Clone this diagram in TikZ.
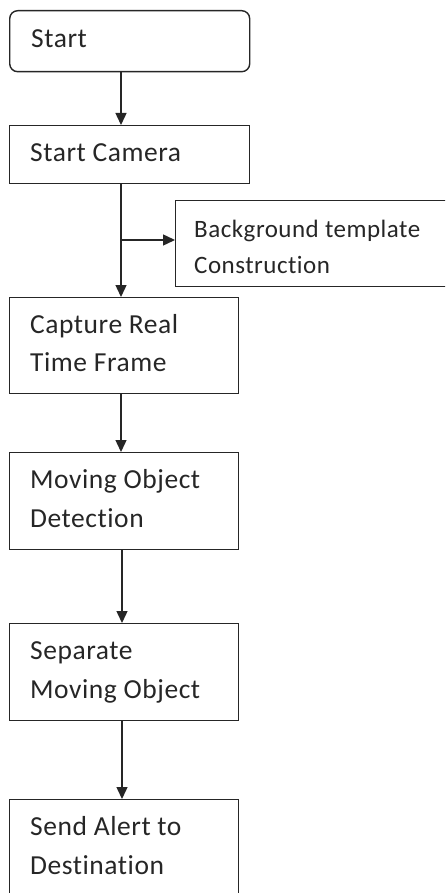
\documentclass[tikz,border=0pt]{standalone}
\usepackage{fontspec}
\setmainfont[Ligatures=NoCommon,LetterSpace=2]{Carlito}
\usetikzlibrary{arrows.meta}
\begin{document}
\begin{tikzpicture}[x=1pt,y=1pt,
  box/.style={draw=black!85, line width=1.4pt, rectangle, anchor=north west, inner sep=0pt},
  lbl/.style={anchor=base west, inner sep=0pt, font=\fontsize{27.5}{30}\selectfont, text=black!85},
  slbl/.style={lbl, font=\fontsize{25}{30}\selectfont},
  arr/.style={draw=black!85, line width=1.4pt, -{Triangle[length=12pt,width=11pt]}}]
\useasboundingbox (0,0) rectangle (445,-893);
\clip (0,0) rectangle (445,-893);
% boxes
\node[box, rounded corners=8pt, minimum width=240pt, minimum height=61pt] (start) at (9,-10) {};
\node[box, minimum width=240pt, minimum height=58pt] (cam) at (9,-125) {};
\node[box, minimum width=290pt, minimum height=86pt] (bg) at (175,-200) {};
\node[box, minimum width=229pt, minimum height=96pt] (cap) at (9,-297) {};
\node[box, minimum width=229pt, minimum height=97pt] (mov) at (9,-452) {};
\node[box, minimum width=229pt, minimum height=97pt] (sep) at (9,-623) {};
\node[box, minimum width=229pt, minimum height=120pt] (send) at (9,-799) {};
% texts
\node[lbl] (t1) at (31,-48) {Start};
\node[lbl] (t2) at (30,-162) {Start Camera};
\node[slbl] (t3a) at (194,-237) {Background template};
\node[slbl] (t3b) at (194,-273) {Construction};
\node[lbl] (t4a) at (30,-333) {Capture Real};
\node[lbl] (t4b) at (30,-371) {Time Frame};
\node[lbl] (t5a) at (30,-488) {Moving Object};
\node[lbl] (t5b) at (30,-527) {Detection};
\node[lbl] (t6a) at (30,-659) {Separate};
\node[lbl] (t6b) at (30,-698) {Moving Object};
\node[lbl] (t7a) at (30,-835) {Send Alert to};
\node[lbl] (t7b) at (30,-874) {Destination};
% connectors
\coordinate (ax) at (121,0);
\coordinate (bx) at (122,0);
\coordinate (br) at (121,-240);
\draw[arr] (start.south -| ax) -- (cam.north -| ax);
\draw[arr] (cam.south -| ax) -- (cap.north -| ax);
\draw[arr] (br) -- (br -| bg.west);
\draw[arr] (cap.south -| ax) -- (mov.north -| ax);
\draw[arr] (mov.south -| bx) -- (sep.north -| bx);
\draw[arr] (sep.south -| bx) -- (send.north -| bx);
\end{tikzpicture}
\end{document}
